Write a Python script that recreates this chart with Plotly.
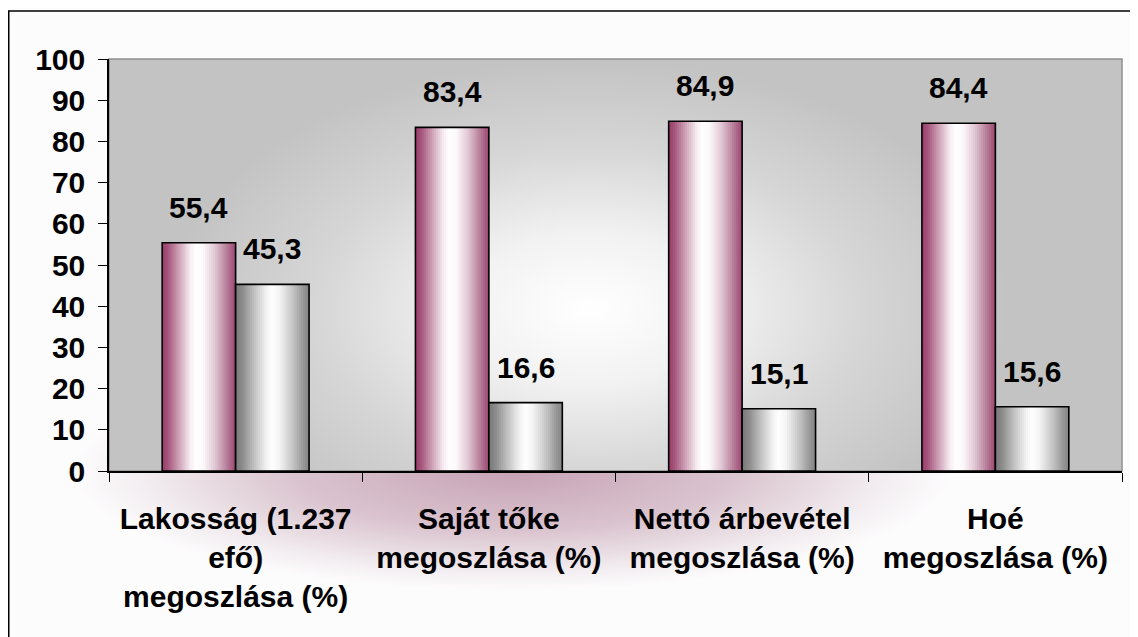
import base64
import plotly.graph_objects as go

# ---- data ----
categories = [
    "Lakosság (1.237<br>efő)<br>megoszlása (%)",
    "Saját tőke<br>megoszlása (%)",
    "Nettó árbevétel<br>megoszlása (%)",
    "Hoé<br>megoszlása (%)",
]
series_a = [55.4, 83.4, 84.9, 84.4]
series_b = [45.3, 16.6, 15.1, 15.6]
y_ticks = [0, 10, 20, 30, 40, 50, 60, 70, 80, 90, 100]

# ---- styling ----
FONT = "Liberation Sans, Arial, sans-serif"
FS = 30
W = 1138
H = 637
ML, MR, MT, MB = 101, 24, 51, 174
PW = W - ML - MR
PH = H - MT - MB
BAR_W = 0.29
N = 36

maroon_stops = [(0.0, (0x98, 0x3C, 0x68)), (0.08, (0xA6, 0x55, 0x7D)), (0.22, (0xCC, 0x9D, 0xB3)),
                (0.38, (0xF6, 0xEC, 0xF1)), (0.46, (0xFF, 0xFF, 0xFF)), (0.56, (0xFC, 0xF8, 0xFA)),
                (0.72, (0xE0, 0xC6, 0xD3)), (0.88, (0xB7, 0x7E, 0x99)), (1.0, (0x9C, 0x46, 0x70))]
gray_stops = [(0.0, (0x78, 0x78, 0x78)), (0.1, (0x8E, 0x8E, 0x8E)), (0.25, (0xC0, 0xC0, 0xC0)),
              (0.42, (0xF2, 0xF2, 0xF2)), (0.5, (0xFF, 0xFF, 0xFF)), (0.6, (0xF4, 0xF4, 0xF4)),
              (0.78, (0xC4, 0xC4, 0xC4)), (0.92, (0x98, 0x98, 0x98)), (1.0, (0x84, 0x84, 0x84))]


def interp(stops, t):
    for (p0, c0), (p1, c1) in zip(stops[:-1], stops[1:]):
        if p0 <= t <= p1:
            f = (t - p0) / (p1 - p0) if p1 > p0 else 0
            c = [round(a + (b - a) * f) for a, b in zip(c0, c1)]
            return "rgb(%d,%d,%d)" % tuple(c)
    return "rgb(%d,%d,%d)" % stops[-1][1]


fig = go.Figure()

for values, start, stops in [(series_a, -BAR_W, maroon_stops), (series_b, 0.0, gray_stops)]:
    step = BAR_W / N
    for k in range(N):
        off = start + k * step
        wid = min(step * 1.7, start + BAR_W - off)
        t = (k + 0.5) / N
        fig.add_trace(go.Bar(
            x=categories, y=values, offset=off, width=wid,
            marker=dict(color=interp(stops, t), line=dict(width=0)),
            showlegend=False, hoverinfo="skip",
        ))
    fig.add_trace(go.Bar(
        x=categories, y=values, offset=start, width=BAR_W,
        marker=dict(color="rgba(0,0,0,0)", line=dict(color="black", width=1.6)),
        showlegend=False, hoverinfo="skip",
    ))

# data labels
for values, dx in [(series_a, -BAR_W / 2), (series_b, BAR_W / 2)]:
    for i, v in enumerate(values):
        fig.add_annotation(
            x=i + dx, y=v, xref="x", yref="y", yanchor="bottom", yshift=17,
            text=("%.1f" % v).replace(".", ","), showarrow=False,
            font=dict(family=FONT, size=FS, color="black", weight="bold"),
        )

# background gradients as SVG images
plot_svg = f'''<svg xmlns="http://www.w3.org/2000/svg" width="{PW}" height="{PH}" viewBox="0 0 {PW} {PH}" preserveAspectRatio="none">
<defs><radialGradient id="g" gradientUnits="userSpaceOnUse" cx="0" cy="0" r="1"
 gradientTransform="translate(480 250) scale(420 250)">
<stop offset="0" stop-color="#FFFFFF"/><stop offset="0.3" stop-color="#F2F2F2"/>
<stop offset="0.65" stop-color="#D6D6D6"/><stop offset="1" stop-color="#C3C3C3"/></radialGradient></defs>
<rect width="{PW}" height="{PH}" fill="#C3C3C3"/><rect width="{PW}" height="{PH}" fill="url(#g)"/></svg>'''

paper_svg = f'''<svg xmlns="http://www.w3.org/2000/svg" width="{W}" height="{H}" viewBox="0 0 {W} {H}" preserveAspectRatio="none">
<defs><radialGradient id="p" gradientUnits="userSpaceOnUse" cx="0" cy="0" r="1"
 gradientTransform="translate(505 463) scale(440 120)">
<stop offset="0" stop-color="#C7A3B5"/><stop offset="0.5" stop-color="#DAC4CF"/>
<stop offset="0.85" stop-color="#F3EEF1"/><stop offset="1" stop-color="#FDFCFD"/></radialGradient></defs>
<rect width="{W}" height="{H}" fill="#FDFCFD"/><rect width="{W}" height="{H}" fill="url(#p)"/></svg>'''


def uri(svg):
    return "data:image/svg+xml;base64," + base64.b64encode(svg.encode("utf-8")).decode("ascii")


fig.add_layout_image(dict(source=uri(paper_svg), xref="paper", yref="paper",
                          x=-ML / PW, y=1 + MT / PH, sizex=W / PW, sizey=H / PH,
                          sizing="stretch", xanchor="left", yanchor="top", layer="below"))
fig.add_layout_image(dict(source=uri(plot_svg), xref="paper", yref="paper",
                          x=0, y=1, sizex=1, sizey=1,
                          sizing="stretch", xanchor="left", yanchor="top", layer="below"))

# plot area border and outer frame
fig.add_shape(type="rect", xref="paper", yref="paper", x0=0, y0=0, x1=1, y1=1,
              line=dict(color="#8E8E8E", width=1.5), layer="below")
fig.add_shape(type="rect", xref="paper", yref="paper",
              x0=(0.75 - ML) / PW, y0=(PH + MT - 700) / PH, x1=(1160 - ML) / PW, y1=(PH + MT - 3) / PH,
              line=dict(color="black", width=1.5), layer="below")

fig.update_layout(
    width=W, height=H,
    margin=dict(l=ML, r=MR, t=MT, b=MB),
    barmode="overlay",
    paper_bgcolor="white",
    plot_bgcolor="rgba(0,0,0,0)",
    showlegend=False,
    font=dict(family=FONT, size=FS, color="black", weight="bold"),
    xaxis=dict(
        type="category", tickson="boundaries", ticks="outside", ticklen=9, tickwidth=1.2,
        tickcolor="black", showline=True, linecolor="black", linewidth=1.5,
        showgrid=False, zeroline=False, ticklabelstandoff=20,
        tickfont=dict(family=FONT, size=FS, color="black", weight="bold"),
        range=[-0.5, 3.5],
    ),
    yaxis=dict(
        range=[0, 100], tickvals=y_ticks, ticks="outside", ticklen=9, tickwidth=1.2,
        tickcolor="black", showline=True, linecolor="black", linewidth=1.5,
        showgrid=False, zeroline=False, ticklabelstandoff=7,
        tickfont=dict(family=FONT, size=FS, color="black", weight="bold"),
    ),
)

fig.write_html("out.html")
